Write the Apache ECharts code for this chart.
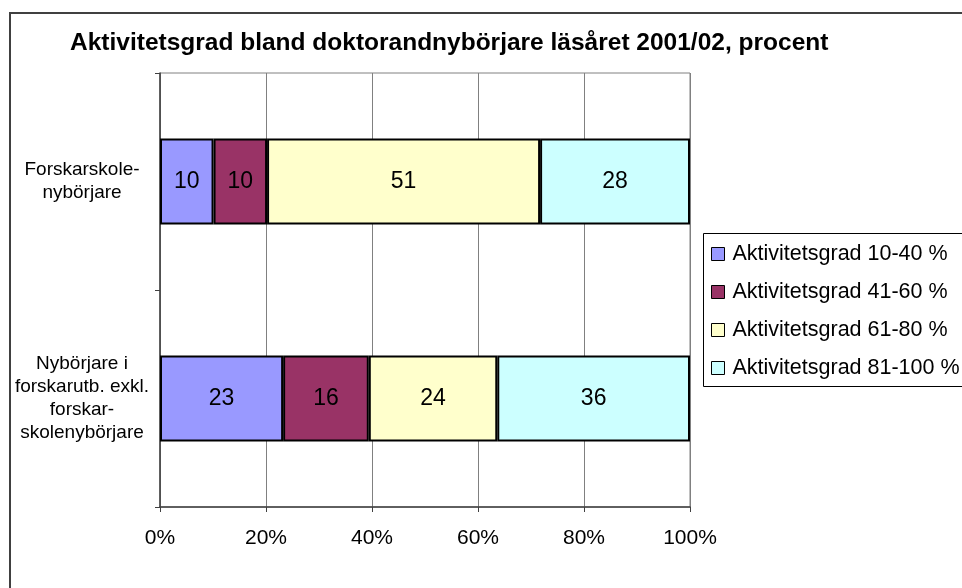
<!DOCTYPE html>
<html>
<head>
<meta charset="utf-8">
<script src="https://cdn.jsdelivr.net/npm/echarts@6/dist/echarts.min.js"></script>
<style>html,body{margin:0;padding:0;background:#fff;}#c{width:962px;height:588px;}</style>
</head>
<body>
<div id="c"></div>
<script>
const categories = ["Forskarskole-\nnybörjare", "Nybörjare i\nforskarutb. exkl.\nforskar-\nskolenybörjare"];
const seriesNames = ["Aktivitetsgrad 10-40 %", "Aktivitetsgrad 41-60 %", "Aktivitetsgrad 61-80 %", "Aktivitetsgrad 81-100 %"];
const grad10_40 = [10, 23];
const grad41_60 = [10, 16];
const grad61_80 = [51, 24];
const grad81_100 = [28, 36];
const xTickLabels = ["0%", "20%", "40%", "60%", "80%", "100%"];
const colors = ["#9999FF", "#993366", "#FFFFCC", "#CCFFFF"];

const raw = [grad10_40, grad41_60, grad61_80, grad81_100];
const totals = categories.map((_, i) => raw.reduce((s, a) => s + a[i], 0));
const FONT = "Liberation Sans, Arial, sans-serif";

const chart = echarts.init(document.getElementById('c'), null, {renderer: 'canvas'});
chart.setOption({
  animation: false,
  backgroundColor: '#fff',
  title: {
    text: "Aktivitetsgrad bland doktorandnybörjare läsåret 2001/02, procent",
    left: 65, top: 26,
    textStyle: {fontFamily: FONT, fontWeight: 'bold', fontSize: 24.5, color: '#000'}
  },
  graphic: [
    {type: 'rect', shape: {x: 10, y: 13, width: 1000, height: 1000}, style: {fill: null, stroke: '#404040', lineWidth: 2}, silent: true},
    {type: 'rect', shape: {x: 703.5, y: 233.5, width: 400, height: 153}, style: {fill: '#fff', stroke: '#000', lineWidth: 1}, silent: true, z: -1}
  ],
  legend: {
    orient: 'vertical',
    left: 711, top: 243, padding: 0,
    itemWidth: 13, itemHeight: 13,
    itemGap: 16,
    icon: 'rect',
    itemStyle: {borderColor: '#000', borderWidth: 1},
    textStyle: {fontFamily: FONT, fontSize: 21.5, color: '#000', lineHeight: 22, padding: [0,0,0,3]},
    data: seriesNames
  },
  grid: {left: 160, right: 272, top: 73, bottom: 81, show: true, borderColor: '#808080', borderWidth: 1, backgroundColor: 'transparent'},
  xAxis: {
    type: 'value', min: 0, max: 100, interval: 20,
    axisLine: {show: true, lineStyle: {color: '#404040', width: 1.5}},
    axisTick: {show: true, length: 5, lineStyle: {color: '#404040'}},
    splitLine: {show: true, lineStyle: {color: '#808080', width: 1}},
    axisLabel: {fontFamily: FONT, fontSize: 21, color: '#000', margin: 21,
      formatter: (v) => xTickLabels[Math.round(v / 20)]}
  },
  yAxis: {
    type: 'category', inverse: true, data: categories,
    axisLine: {show: true, lineStyle: {color: '#404040', width: 1.5}},
    axisTick: {show: true, length: 5, lineStyle: {color: '#404040'}},
    splitLine: {show: false},
    axisLabel: {fontFamily: FONT, fontSize: 19, color: '#000', lineHeight: 23, align: 'center', margin: 78}
  },
  series: seriesNames.map((name, si) => ({
    name, type: 'bar', stack: 'total', barWidth: 86,
    data: raw[si].map((v, i) => v / totals[i] * 100),
    itemStyle: {color: colors[si], borderColor: '#000', borderWidth: 2},
    label: {show: true, position: 'inside', fontFamily: FONT, fontSize: 23, color: '#000',
      formatter: (p) => String(raw[si][p.dataIndex])}
  }))
});
</script>
</body>
</html>
